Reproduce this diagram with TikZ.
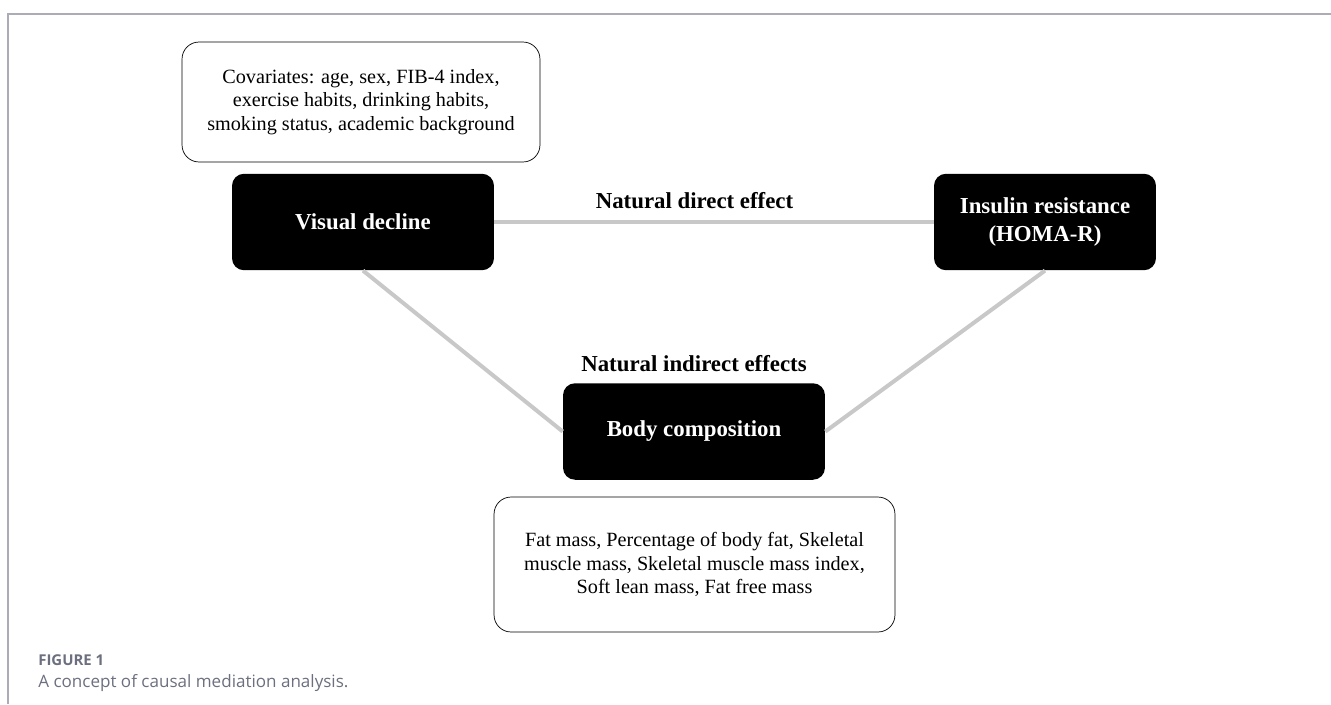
\documentclass[tikz,border=0pt]{standalone}
\usepackage{xcolor}
\usepackage{fontspec}
\setmainfont{Liberation Serif}
\newfontfamily\capfont{Open Sans}
\usepackage{tikz}
\usetikzlibrary{positioning, shapes, calc}
\definecolor{linkgray}{RGB}{200,200,200}
\definecolor{framegray}{RGB}{172,172,182}
\definecolor{captiongray}{RGB}{108,111,126}
\begin{document}
\begin{tikzpicture}[x=0.02cm, y=-0.02cm]
	\tikzstyle{varbox}=[rectangle, rounded corners=0.24cm, fill=black, text=white, font=\fontsize{13}{16}\selectfont\bfseries, align=center, minimum height=1.93cm]
	\tikzstyle{notebox}=[rectangle, rounded corners=0.34cm, draw=black, fill=white, font=\fontsize{11.5}{13.3}\selectfont, align=center]
	\tikzstyle{link}=[draw=linkgray, line width=0.08cm]
	\tikzstyle{effect}=[font=\fontsize{13}{16}\selectfont\bfseries]
	\useasboundingbox (0,0) rectangle (1331,704);
	\draw[framegray, line width=0.03cm] (8,704) -- (8,14) -- (1331,14);
	
	\node (cov) at (361,102) [notebox, minimum width=7.16cm, minimum height=2.4cm]
		{Covariates: age, sex, FIB-4 index,\\exercise habits, drinking habits,\\smoking status, academic background};
	\node (vis) at (363,222) [varbox, minimum width=5.24cm]{Visual decline};
	\node (ins) at (1045,222) [varbox, minimum width=4.44cm]{Insulin resistance\\(HOMA-R)};
	\node (body) at (694,431.5) [varbox, minimum width=5.24cm]{Body composition};
	\node (comp) at (694.5,564.5) [notebox, minimum width=8.02cm, minimum height=2.7cm]
		{Fat mass, Percentage of body fat, Skeletal\\muscle mass, Skeletal muscle mass index,\\Soft lean mass, Fat free mass};
	
	\draw[link] (vis.east) -- (ins.west);
	\draw[link] (vis.south) -- (body.west);
	\draw[link] (ins.south) -- (body.east);
	
	\node (direct) at (694.5,201) [effect]{Natural direct effect};
	\node (indirect) at (694,364) [effect]{Natural indirect effects};
	
	\node (fig) at (38,660) [anchor=west, inner sep=0pt, text=captiongray, font=\capfont\fontsize{8.5}{10}\selectfont\bfseries]{FIGURE 1};
	\node (cap) at (38,683) [anchor=west, inner sep=0pt, text=captiongray, font=\capfont\fontsize{9.7}{11}\selectfont]{A concept of causal mediation analysis.};
\end{tikzpicture}
\end{document}
